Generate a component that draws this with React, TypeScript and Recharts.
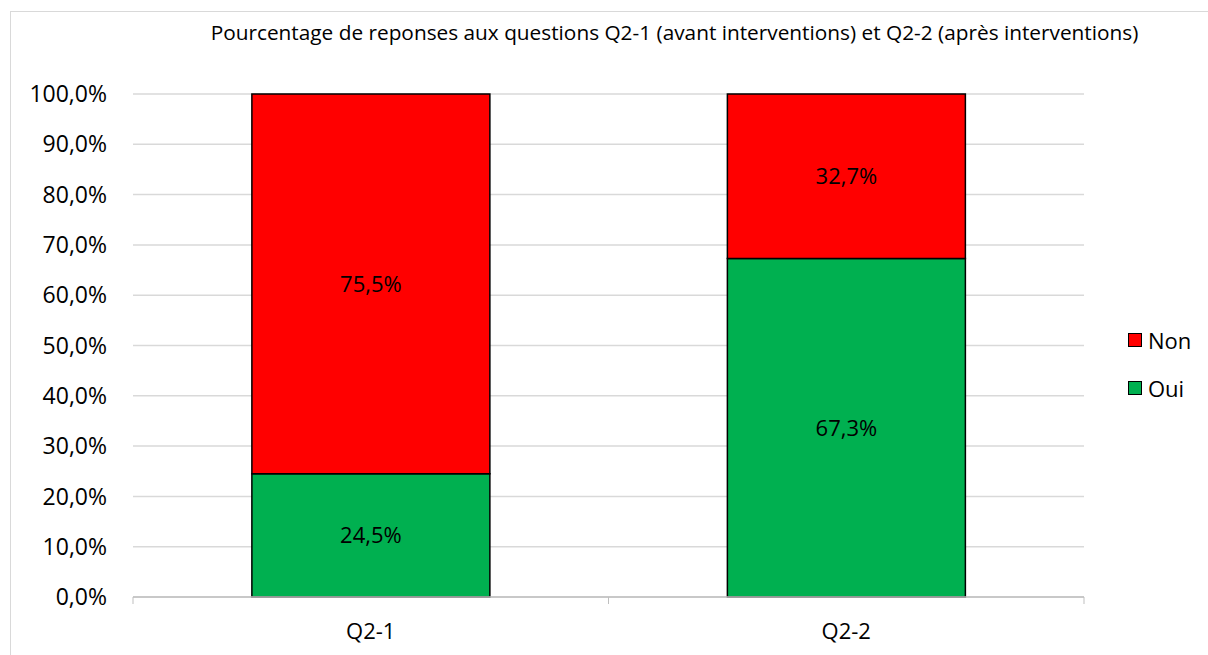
import { Bar, BarChart, CartesianGrid, LabelList, XAxis, YAxis } from 'recharts'

const categories = ['Q2-1', 'Q2-2']
const ouiValues = [24.5, 67.3]
const nonValues = [75.5, 32.7]
const yTicks = [0, 10, 20, 30, 40, 50, 60, 70, 80, 90, 100]

const series = [
  { key: 'non', label: 'Non', color: '#ff0000' },
  { key: 'oui', label: 'Oui', color: '#00b050' },
]

const TITLE = 'Pourcentage de reponses aux questions Q2-1 (avant interventions) et Q2-2 (après interventions)'
const FONT = '"Open Sans", sans-serif'

const W = 1208
const H = 655
const Y_AXIS_W = 133
const MARGIN = { top: 94, right: 124, bottom: 28, left: 0 }
const PLOT_W = W - Y_AXIS_W - MARGIN.right
const BAND = PLOT_W / categories.length

const fmt = (v: number) => v.toFixed(1).replace('.', ',') + '%'

const rows = categories.map((name, i) => ({ name, oui: ouiValues[i], non: nonValues[i] }))

// tick marks sit on the band edges, like the spreadsheet original
function CategoryTick({ x, y, payload, index }: { x: number; y: number; payload: { value: string }; index: number }) {
  const left = x - BAND / 2
  const right = x + BAND / 2
  return (
    <g>
      <line x1={left} x2={left} y1={y} y2={y + 7} stroke="#bfbfbf" />
      {index === categories.length - 1 && <line x1={right} x2={right} y1={y} y2={y + 7} stroke="#bfbfbf" />}
      <text x={x} y={y + 42} textAnchor="middle" fill="#000" fontSize={22} fontFamily={FONT}>
        {payload.value}
      </text>
    </g>
  )
}

export default function App() {
  return (
    <div style={{ position: 'relative', width: W, height: H, overflow: 'hidden', fontFamily: FONT }}>
      <style>{'html, body { margin: 0; padding: 0; overflow: hidden; }'}</style>
      <div
        style={{
          position: 'absolute',
          left: 10,
          top: 11,
          width: W + 20,
          height: H + 20,
          border: '1px solid #d9d9d9',
        }}
      />
      <div
        style={{
          position: 'absolute',
          left: 0,
          width: 1349,
          top: 20,
          textAlign: 'center',
          fontSize: 20.8,
          lineHeight: '24px',
          color: '#000',
          whiteSpace: 'nowrap',
        }}
      >
        {TITLE}
      </div>
      <div style={{ position: 'absolute', left: 0, top: 0 }}>
        <BarChart width={W} height={H} data={rows} margin={MARGIN} barCategoryGap="25%">
          <CartesianGrid vertical={false} stroke="#d9d9d9" strokeWidth={1.5} />
          <XAxis
            dataKey="name"
            height={30}
            tickLine={false}
            tickSize={0}
            tickMargin={0}
            axisLine={{ stroke: '#bfbfbf', strokeWidth: 1.5 }}
            tick={CategoryTick as any}
            interval={0}
          />
          <YAxis
            width={Y_AXIS_W}
            domain={[0, 100]}
            ticks={yTicks}
            tickFormatter={fmt}
            axisLine={false}
            tickLine={false}
            tickMargin={20}
            tick={{ fill: '#000', fontSize: 23, fontFamily: FONT }}
          />
          <Bar dataKey="oui" stackId="a" fill="#00b050" stroke="#000" strokeWidth={1.5} isAnimationActive={false}>
            <LabelList dataKey="oui" position="center" formatter={(v: any) => fmt(Number(v))} fill="#000" fontSize={22} fontFamily={FONT} />
          </Bar>
          <Bar dataKey="non" stackId="a" fill="#ff0000" stroke="#000" strokeWidth={1.5} isAnimationActive={false}>
            <LabelList dataKey="non" position="center" formatter={(v: any) => fmt(Number(v))} fill="#000" fontSize={22} fontFamily={FONT} />
          </Bar>
        </BarChart>
      </div>
      <div style={{ position: 'absolute', left: 1128, top: 316 }}>
        {series.map((s) => (
          <div key={s.key} style={{ display: 'flex', alignItems: 'center', height: 48, fontSize: 22, color: '#000' }}>
            <span
              style={{
                display: 'inline-block',
                width: 12,
                height: 12,
                background: s.color,
                border: '1.5px solid #000',
                marginRight: 6,
              }}
            />
            {s.label}
          </div>
        ))}
      </div>
    </div>
  )
}
